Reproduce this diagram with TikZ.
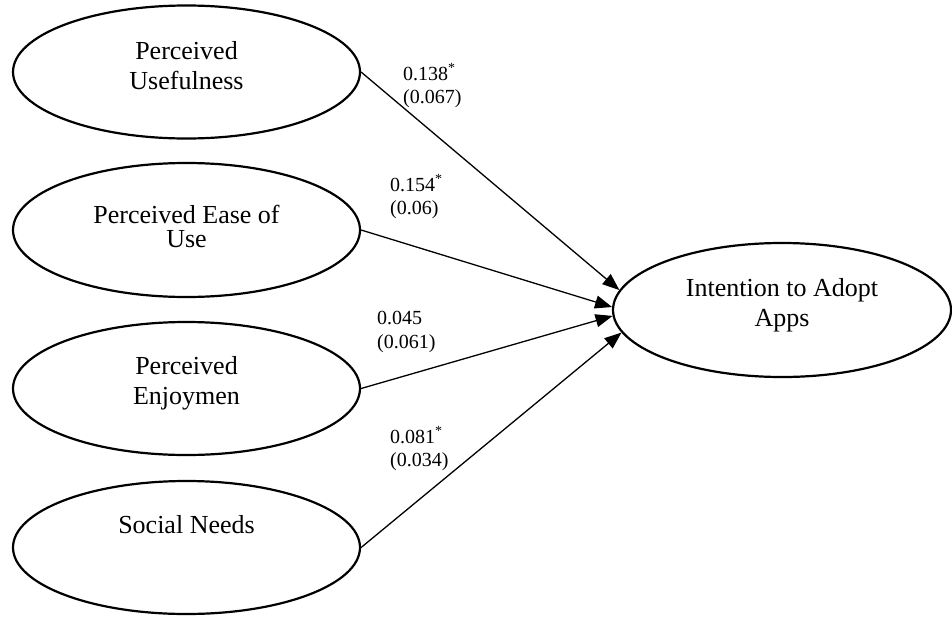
\documentclass[tikz,border=0pt]{standalone}
\usepackage{fontspec}
\setmainfont{Liberation Serif}
\usetikzlibrary{shapes.geometric,arrows.meta}
\begin{document}
\begin{tikzpicture}[x=1pt,y=-1pt,
  lat/.style={ellipse, draw, line width=2.2pt, inner sep=0pt, minimum width=347pt, minimum height=133pt},
  nm/.style={align=center, inner sep=0pt, font=\fontsize{26}{30}\selectfont},
  coef/.style={align=left, inner sep=0pt, anchor=south west, font=\fontsize{20}{23.5}\selectfont},
  arrowline/.style={line width=1.3pt, -{Triangle[length=17pt,width=13pt]}}]
\useasboundingbox (0,0) rectangle (952,616);
% latent variables
\node[lat] (pu) at (186.5,72) {};
\node[nm] (put) at (186.5,65.4) {Perceived\\Usefulness};
\node[lat, minimum height=134pt] (peu) at (186.5,230) {};
\node[nm, font=\fontsize{26}{24}\selectfont] (peut) at (186.5,226) {Perceived Ease of\\Use};
\node[lat] (pe) at (186.5,388.5) {};
\node[nm] (pet) at (186.5,383) {Perceived\\Enjoymen};
\node[lat] (sn) at (186.5,547.5) {};
\node[nm] (snt) at (186.5,524.4) {Social Needs};
\node[lat, minimum width=338pt, minimum height=134pt] (ia) at (782,310) {};
\node[nm] (iat) at (782,305.6) {Intention to Adopt\\Apps};
% coefficients
\node[coef] (c1) at (403,108) {0.138\textsuperscript{*}\\(0.067)};
\node[coef] (c2) at (390,219.3) {0.154\textsuperscript{*}\\(0.06)};
\node[coef] (c3) at (377,352.6) {0.045\\(0.061)};
\node[coef] (c4) at (390,471) {0.081\textsuperscript{*}\\(0.034)};
% paths
\draw[arrowline] (pu.east) -- (ia.173.7);
\draw[arrowline] (peu.east) -- (ia.179.1);
\draw[arrowline] (pe.east) -- (ia.182.8);
\draw[arrowline] (sn.east) -- (ia.188.1);
\end{tikzpicture}
\end{document}
